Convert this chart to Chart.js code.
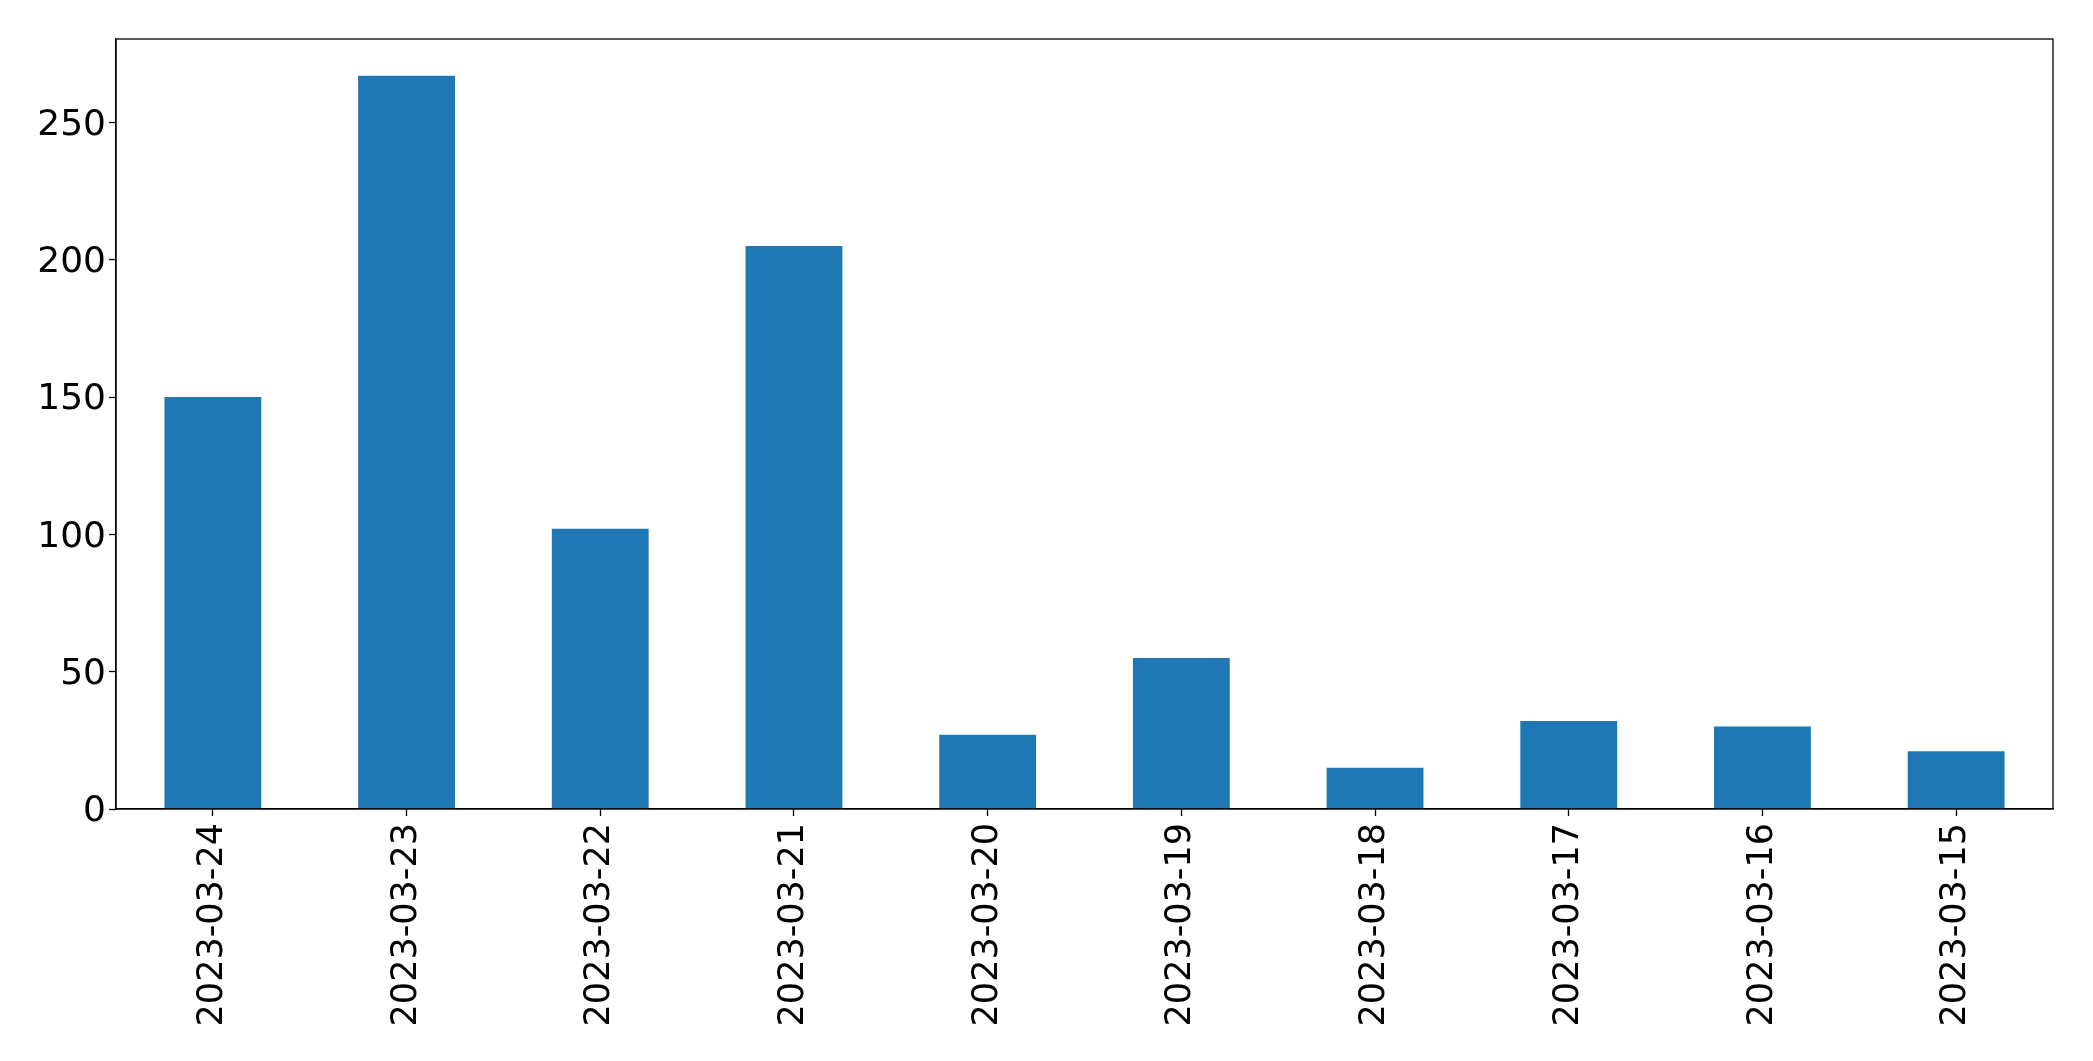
<!DOCTYPE html>
<html>
<head>
<meta charset="utf-8">
<script src="https://cdn.jsdelivr.net/npm/chart.js@4/dist/chart.umd.min.js"></script>
<style>
  body { margin: 0; background: #fff; }
  canvas { display: block; }
</style>
</head>
<body>
<canvas id="myChart" width="2093" height="1061"></canvas>
<script>
var dates = ["2023-03-24", "2023-03-23", "2023-03-22", "2023-03-21", "2023-03-20",
             "2023-03-19", "2023-03-18", "2023-03-17", "2023-03-16", "2023-03-15"]
var counts = [150, 267, 102, 205, 27, 55, 15, 32, 30, 21]
var yTicks = [0, 50, 100, 150, 200, 250]
var yMax = 280.35

// box around the plot area (matplotlib spines)
var frame = {
    id: "frame",
    afterDraw: function(chart){
        var a = chart.chartArea
        var ctx = chart.ctx
        ctx.save()
        ctx.strokeStyle = "#000"
        ctx.lineWidth = 1.3
        ctx.strokeRect(a.left, a.top, a.right - a.left, a.bottom - a.top)
        ctx.restore()
    }
}

var bg = {
    id: "bg",
    beforeDraw: function(chart){
        var ctx = chart.ctx
        ctx.save()
        ctx.fillStyle = "#fff"
        ctx.fillRect(0, 0, chart.width, chart.height)
        ctx.restore()
    }
}

var myChart = document.getElementById("myChart").getContext("2d")

var chart = new Chart(myChart, {
    type: "bar",
    data: {
        labels: dates,
        datasets: [
            {
                data: counts,
                backgroundColor: "#1f77b4",
                borderWidth: 0,
                barPercentage: 0.5,
                categoryPercentage: 1.0
            }
        ]
    },
    options: {
        responsive: false,
        animation: false,
        layout: { padding: { left: 0, top: 39, right: 40, bottom: 0 } },
        plugins: {
            legend: { display: false },
            tooltip: { enabled: false }
        },
        scales: {
            x: {
                grid: { offset: false, drawOnChartArea: false, drawTicks: true, tickLength: 7, tickColor: "#000", tickWidth: 1.3 },
                border: { color: "#000", width: 1.3 },
                ticks: {
                    minRotation: 90,
                    maxRotation: 90,
                    autoSkip: false,
                    padding: 7,
                    color: "#000",
                    font: { family: "DejaVu Sans", size: 35 }
                },
                afterFit: function(scale){ scale.height = 252 }
            },
            y: {
                min: 0,
                max: yMax,
                grid: { drawOnChartArea: false, drawTicks: true, tickLength: 7, tickColor: "#000", tickWidth: 1.3 },
                border: { color: "#000", width: 1.3 },
                ticks: {
                    padding: 3,
                    labelOffset: 3,
                    color: "#000",
                    font: { family: "DejaVu Sans", size: 36 }
                },
                afterBuildTicks: function(scale){
                    scale.ticks = yTicks.map(function(v){ return { value: v } })
                },
                afterFit: function(scale){ scale.width = 116 }
            }
        }
    },
    plugins: [bg, frame]
})
</script>
</body>
</html>
